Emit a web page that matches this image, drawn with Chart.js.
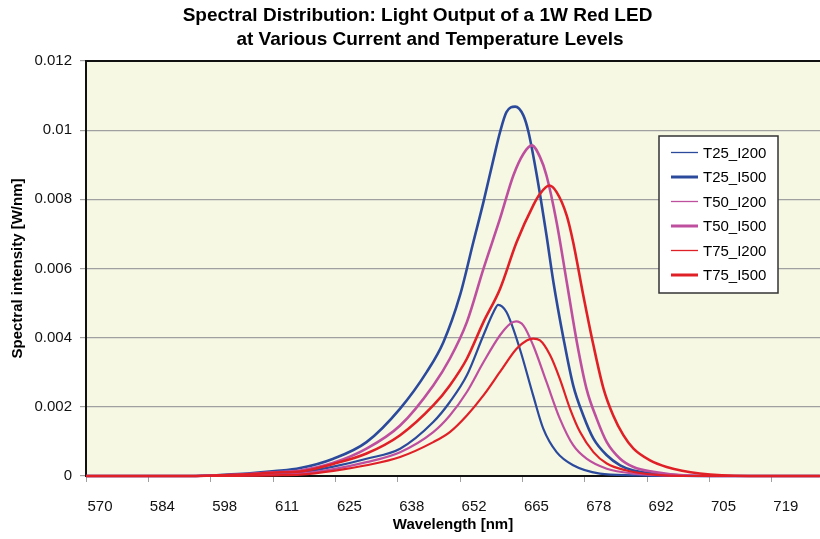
<!DOCTYPE html>
<html><head><meta charset="utf-8">
<script src="https://cdn.jsdelivr.net/npm/chart.js@4/dist/chart.umd.min.js"></script>
<style>html,body{margin:0;padding:0;background:#fff;}</style>
</head><body>
<canvas id="c" width="820" height="539"></canvas>
<script>
// ---- data (wavelength nm, spectral intensity W/nm) ----
const seriesNames = ['T25_I200','T25_I500','T50_I200','T50_I500','T75_I200','T75_I500'];
const xTickLabels = ['570','584','598','611','625','638','652','665','678','692','705','719'];
const yTickLabels = ['0','0.002','0.004','0.006','0.008','0.01','0.012'];
const titleLines = ['Spectral Distribution: Light Output of a 1W Red LED','at Various Current and Temperature Levels'];

const T25_I200 = [[567,0],[590,0],[596,0.00001],[602,0.00003],[608,0.00006],[613.5,0.0001],[620.7,0.00027],[627.9,0.0005],[635.2,0.00079],[642.4,0.00156],[646,0.00214],[649.7,0.00291],[653.3,0.00407],[655.5,0.00474],[656.5,0.00495],[658.3,0.00474],[661.2,0.00368],[664.1,0.00233],[666.3,0.00137],[669.2,0.00069],[672.8,0.00031],[678.6,0.00007],[685.9,0.00002],[692,0],[726.4,0]];
const T25_I500 = [[567,0],[590,0],[596,0.00003],[602,0.00007],[608,0.00014],[613.5,0.00023],[620.7,0.0005],[627.9,0.00098],[635.2,0.00195],[641,0.00301],[644.6,0.00387],[648.2,0.00522],[651.1,0.00676],[653.3,0.00792],[655.5,0.00917],[656.9,0.00994],[658.3,0.01052],[660.2,0.01068],[662,0.01042],[663.1,0.00994],[664.9,0.00869],[667,0.00696],[668.5,0.00561],[670.7,0.00397],[672.8,0.00262],[675,0.00175],[677.2,0.00108],[680.1,0.0006],[683,0.00031],[685.9,0.00016],[693.1,0.00004],[700,0],[726.4,0]];
const T50_I200 = [[567,0],[590,0],[596,0.00001],[602,0.00002],[608,0.00004],[613.5,0.00007],[620.7,0.0002],[627.9,0.0004],[635.2,0.00069],[642.4,0.00127],[646,0.00175],[649.7,0.00243],[653.3,0.00329],[656.9,0.00407],[659.1,0.0044],[660.4,0.00447],[662,0.00435],[664.1,0.00378],[667,0.00272],[669.9,0.00166],[672.8,0.00089],[675.7,0.0005],[680.1,0.00021],[685.9,0.00007],[693.1,0.00002],[700,0],[726.4,0]];
const T50_I500 = [[567,0],[590,0],[596,0.00002],[602,0.00006],[608,0.00011],[613.5,0.00016],[620.7,0.00038],[627.9,0.00079],[635.2,0.00146],[642.4,0.00262],[646,0.00339],[649.7,0.00445],[653.3,0.00599],[656.9,0.00744],[659.8,0.00869],[662,0.00932],[663.8,0.00956],[665.6,0.00922],[667,0.00869],[669.2,0.00734],[671.4,0.00561],[673.6,0.00387],[675.7,0.00252],[677.9,0.00166],[680.1,0.00098],[683,0.0005],[685.9,0.00026],[690.2,0.00012],[696.7,0.00002],[705,0],[726.4,0]];
const T75_I200 = [[567,0],[590,0],[596,0],[602,0.00001],[608,0.00002],[613.5,0.00004],[620.7,0.00015],[627.9,0.00031],[635.2,0.00055],[642.4,0.00098],[646,0.00127],[649.7,0.00175],[653.3,0.00233],[656.9,0.00301],[660.5,0.00368],[662.7,0.00392],[664.1,0.00397],[665.6,0.00392],[667.8,0.00349],[669.9,0.00281],[672.1,0.00195],[674.3,0.00127],[677.2,0.00069],[680.1,0.00036],[684.4,0.00016],[690.2,0.00004],[698,0],[726.4,0]];
const T75_I500 = [[567,0],[590,0],[596,0.00002],[602,0.00005],[608,0.0001],[613.5,0.00013],[620.7,0.00035],[627.9,0.00065],[635.2,0.00118],[642.4,0.00204],[646,0.00262],[649.7,0.00339],[653.3,0.00445],[656.9,0.00541],[660.5,0.00676],[664.1,0.00782],[665.6,0.00816],[667.6,0.0084],[669.2,0.00821],[671.4,0.00753],[672.8,0.00676],[675,0.00522],[677.2,0.00378],[679.4,0.00252],[681.5,0.00175],[683.7,0.00118],[685.9,0.00079],[689.5,0.00045],[693.1,0.00026],[700.3,0.00007],[711,0],[726.4,0]];

const seriesData = [T25_I200, T25_I500, T50_I200, T50_I500, T75_I200, T75_I500];

// ---- styling ----
const colors = ['#2B4A9C','#2B4A9C','#BE4F9F','#BE4F9F','#E02027','#E02027'];
const plotWidths = [2.2,2.6,2.2,2.6,2.2,2.6];
const legendWidths = [1.3,3,1.3,3,1.3,3];
const X_MIN = 566.96, X_STEP = 13.545, X_MAX = 726.42;
const FONT = '"Liberation Sans", Arial, sans-serif';

const datasets = seriesNames.map((name, i) => ({
  label: name,
  data: seriesData[i].map(p => ({x: p[0], y: p[1]})),
  borderColor: colors[i],
  backgroundColor: colors[i],
  borderWidth: plotWidths[i],
  pointRadius: 0,
  cubicInterpolationMode: 'monotone',
  fill: false,
  clip: 4,
  order: 6 - i
}));

const bgPlugin = {
  id: 'bg',
  beforeDraw(chart) {
    const {ctx, chartArea: a} = chart;
    ctx.save();
    ctx.fillStyle = '#fff';
    ctx.fillRect(0, 0, chart.width, chart.height);
    ctx.fillStyle = '#F6F8E4';
    ctx.fillRect(a.left, a.top, a.right - a.left, a.bottom - a.top);
    ctx.restore();
  },
  afterDraw(chart) {
    const {ctx, chartArea: a} = chart;
    ctx.save();
    // top border
    ctx.strokeStyle = '#111';
    ctx.lineWidth = 2;
    ctx.beginPath();
    ctx.moveTo(a.left - 1, a.top);
    ctx.lineTo(a.right, a.top);
    ctx.stroke();
    // title
    ctx.fillStyle = '#000';
    ctx.font = 'bold 19px ' + FONT;
    ctx.textAlign = 'center';
    ctx.textBaseline = 'middle';
    ctx.fillText(titleLines[0], 417.5, 16);
    ctx.fillText(titleLines[1], 430, 40);
    // legend
    const bx = 659, by = 136, bw = 119, bh = 157;
    ctx.fillStyle = '#fff';
    ctx.fillRect(bx, by, bw, bh);
    ctx.strokeStyle = '#333';
    ctx.lineWidth = 1.5;
    ctx.strokeRect(bx, by, bw, bh);
    ctx.font = '15px ' + FONT;
    ctx.textAlign = 'left';
    ctx.textBaseline = 'middle';
    chart.data.datasets.forEach((ds, i) => {
      const y = 152.5 + i * 24.5;
      ctx.strokeStyle = ds.borderColor;
      ctx.lineWidth = legendWidths[i];
      ctx.beginPath();
      ctx.moveTo(671, y);
      ctx.lineTo(698, y);
      ctx.stroke();
      ctx.fillStyle = '#000';
      ctx.fillText(ds.label, 703, y + 1);
    });
    ctx.restore();
  }
};

new Chart(document.getElementById('c'), {
  type: 'line',
  data: {datasets},
  plugins: [bgPlugin],
  options: {
    responsive: false,
    animation: false,
    devicePixelRatio: 1,
    layout: {padding: {top: 61, left: 0, right: 0, bottom: 0}},
    plugins: {legend: {display: false}, tooltip: {enabled: false}, title: {display: false}},
    scales: {
      x: {
        type: 'linear',
        min: X_MIN, max: X_MAX,
        afterBuildTicks: s => { s.ticks = xTickLabels.map((_, i) => ({value: X_MIN + i * X_STEP})); },
        afterFit: s => { s.height = 63; },
        ticks: {
          callback: (v, i) => xTickLabels[i],
          labelOffset: 14, padding: 16, maxRotation: 0, autoSkip: false,
          color: '#111', font: {family: FONT, size: 15}
        },
        grid: {drawOnChartArea: false, drawTicks: true, tickLength: 6, color: '#A0A0A0'},
        border: {display: true, color: '#111', width: 2},
        title: {display: true, text: 'Wavelength [nm]', color: '#000', font: {family: FONT, size: 15, weight: 'bold'}, padding: {top: 0, bottom: 5}}
      },
      y: {
        min: 0, max: 0.012,
        afterBuildTicks: s => { s.ticks = yTickLabels.map((t, i) => ({value: i * 0.002})); },
        afterFit: s => { s.width = 86; },
        ticks: {
          callback: (v, i) => yTickLabels[i],
          padding: 8, color: '#111', font: {family: FONT, size: 15}
        },
        grid: {color: '#A0A0A0', lineWidth: 1.2, tickLength: 6},
        border: {display: true, color: '#111', width: 2},
        title: {display: true, text: 'Spectral intensity [W/nm]', color: '#000', font: {family: FONT, size: 15, weight: 'bold'}, padding: {top: 9, bottom: 0}}
      }
    }
  }
});
</script>
</body></html>
